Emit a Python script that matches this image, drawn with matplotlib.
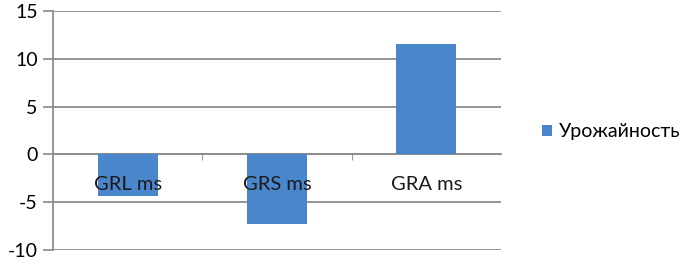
# bar chart: Урожайность by GR index

import matplotlib.pyplot as plt

categories = ['GRL ms', 'GRS ms', 'GRA ms']
values = [-4.3, -7.3, 11.6]
series_name = 'Урожайность'
y_ticks = [-10, -5, 0, 5, 10, 15]

plt.rcParams['font.family'] = ['Lato', 'DejaVu Sans']
plt.rcParams['axes.unicode_minus'] = False

fig = plt.figure(figsize=(6.87, 2.65), dpi=100)
ax = fig.add_axes([53 / 687, 15 / 265, 448 / 687, 239 / 265])

x = list(range(len(categories)))
bars = ax.bar(x, values, width=0.4, color='#4A86CB', label=series_name, zorder=3)

ax.set_xlim(-0.5, len(categories) - 0.5)
ax.set_ylim(-10, 15)
ax.set_yticks(y_ticks)
ax.tick_params(axis='y', labelsize=14, length=7, color='#888888', width=1.2, pad=4)

# gridlines
ax.grid(axis='y', color='#8c8c8c', linewidth=1.3, zorder=0)
ax.set_axisbelow(True)

# category axis crosses at zero
ax.spines['top'].set_visible(False)
ax.spines['right'].set_visible(False)
ax.spines['bottom'].set_position(('data', 0))
ax.spines['bottom'].set_color('#8c8c8c')
ax.spines['bottom'].set_linewidth(1.3)
ax.spines['left'].set_color('#8c8c8c')
ax.spines['left'].set_linewidth(1.3)

# category labels drawn inside the plot, below the zero line
ax.set_xticks([0.5, 1.5], minor=False)
ax.set_xticklabels([])
ax.tick_params(axis='x', length=4, color='#999999', width=0.8, direction='out')
for i, name in enumerate(categories):
    ax.text(i, -3.1, name, ha='center', va='center', fontsize=14.5, color='#1a1a1a', zorder=4)

# legend
fig.legend(handles=[bars], labels=[series_name], loc='center left',
           bbox_to_anchor=(524 / 687, 1 - 132 / 265), frameon=False,
           fontsize=14, handlelength=0.55, handleheight=0.55, handletextpad=0.35)

plt.savefig('out.png', dpi=100)
